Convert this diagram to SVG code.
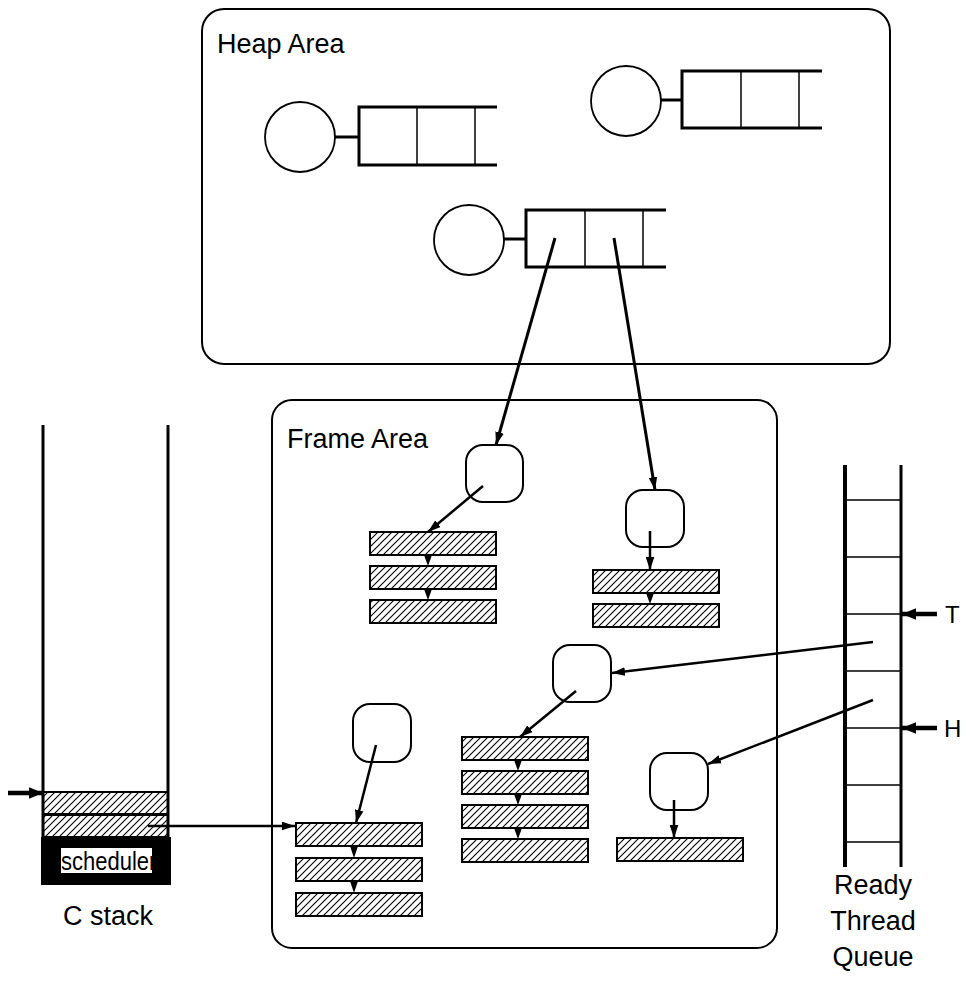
<svg xmlns="http://www.w3.org/2000/svg" width="964" height="988" viewBox="0 0 964 988">
<defs>
<pattern id="hatch" patternUnits="userSpaceOnUse" width="7" height="7">
<path d="M-2,2 L2,-2 M0,7 L7,0 M5,9 L9,5" stroke="#000" stroke-width="1.1"/>
</pattern>
<marker id="ah" viewBox="0 0 12 8" refX="12" refY="4" markerWidth="13" markerHeight="9" markerUnits="userSpaceOnUse" orient="auto">
<path d="M0,0 L12,4 L0,8 Z" fill="#000"/>
</marker>
<marker id="ahb" viewBox="0 0 12 10" refX="12" refY="5" markerWidth="14" markerHeight="12" markerUnits="userSpaceOnUse" orient="auto">
<path d="M0,0 L12,5 L0,10 Z" fill="#000"/>
</marker>
</defs>
<style>
.area{fill:none;stroke:#000;stroke-width:2}
.lbl{font-family:"Liberation Sans",Arial,sans-serif;font-size:27px;fill:#000}
.sm{font-family:"Liberation Sans",Arial,sans-serif;font-size:22px;fill:#000}
.tag{font-family:"Liberation Sans",Arial,sans-serif;font-size:24px;fill:#000}
.circ{fill:#fff;stroke:#000;stroke-width:1.8}
.thick{stroke:#000;stroke-width:3;fill:none}
.thin{stroke:#000;stroke-width:1.5;fill:none}
.node{fill:#fff;stroke:#000;stroke-width:2}
.stripe{fill:url(#hatch);stroke:#000;stroke-width:2}
.arr{stroke:#000;stroke-width:2.5;fill:none;marker-end:url(#ah)}
.arrh{stroke:#000;stroke-width:3;fill:none;marker-end:url(#ah)}
.ptr{stroke:#000;stroke-width:4.5;fill:none;marker-end:url(#ahb)}
.tri{fill:#000}
</style>

<g id="heap-area">
<rect class="area" x="202" y="9" width="688" height="355" rx="22"/>
<text class="lbl" x="217" y="53">Heap Area</text>
</g>

<g id="heap-obj-1">
<circle class="circ" cx="300" cy="137" r="35"/>
<line class="thick" x1="335" y1="137" x2="359" y2="137"/>
<path class="thick" d="M497,107 H359 V165 H497"/>
<line class="thin" x1="417" y1="107" x2="417" y2="165"/>
<line class="thin" x1="475" y1="107" x2="475" y2="165"/>
</g>

<g id="heap-obj-2">
<circle class="circ" cx="626" cy="101" r="35"/>
<line class="thick" x1="661" y1="100" x2="682" y2="100"/>
<path class="thick" d="M822,71 H682 V128 H822"/>
<line class="thin" x1="741" y1="71" x2="741" y2="128"/>
<line class="thin" x1="799" y1="71" x2="799" y2="128"/>
</g>

<g id="heap-obj-3">
<circle class="circ" cx="469" cy="240" r="35"/>
<line class="thick" x1="504" y1="239" x2="526" y2="239"/>
<path class="thick" d="M666,210 H526 V267 H666"/>
<line class="thin" x1="585" y1="210" x2="585" y2="267"/>
<line class="thin" x1="643" y1="210" x2="643" y2="267"/>
</g>

<g id="frame-area">
<rect class="area" x="272" y="400" width="505" height="548" rx="20"/>
<text class="lbl" x="287" y="448">Frame Area</text>
</g>

<g id="thread-a">
<rect class="node" x="466" y="445" width="57" height="57" rx="17"/>
<rect class="stripe" x="370" y="532" width="126" height="23"/>
<rect class="stripe" x="370" y="566" width="126" height="23"/>
<rect class="stripe" x="370" y="600" width="126" height="23"/>
<path class="tri" d="M424,555 L432,555 L428,566 Z"/>
<path class="tri" d="M424,589 L432,589 L428,600 Z"/>
</g>

<g id="thread-b">
<rect class="node" x="626" y="490" width="58" height="57" rx="17"/>
<rect class="stripe" x="593" y="570" width="126" height="23"/>
<rect class="stripe" x="593" y="604" width="126" height="23"/>
<path class="tri" d="M646,593 L654,593 L650,604 Z"/>
</g>

<g id="thread-c">
<rect class="node" x="553" y="645" width="58" height="57" rx="17"/>
<rect class="stripe" x="462" y="737" width="126" height="23"/>
<rect class="stripe" x="462" y="771" width="126" height="23"/>
<rect class="stripe" x="462" y="805" width="126" height="23"/>
<rect class="stripe" x="462" y="839" width="126" height="23"/>
<path class="tri" d="M514,760 L522,760 L518,771 Z"/>
<path class="tri" d="M514,794 L522,794 L518,805 Z"/>
<path class="tri" d="M514,828 L522,828 L518,839 Z"/>
</g>

<g id="thread-d">
<rect class="node" x="353" y="704" width="58" height="58" rx="17"/>
<rect class="stripe" x="296" y="823" width="126" height="23"/>
<rect class="stripe" x="296" y="858" width="126" height="23"/>
<rect class="stripe" x="296" y="893" width="126" height="23"/>
<path class="tri" d="M350,846 L358,846 L354,858 Z"/>
<path class="tri" d="M350,881 L358,881 L354,893 Z"/>
</g>

<g id="thread-e">
<rect class="node" x="650" y="753" width="58" height="57" rx="17"/>
<rect class="stripe" x="617" y="838" width="126" height="23"/>
</g>

<g id="c-stack">
<path d="M43,425 V840 M168,425 V840" stroke="#000" stroke-width="3" fill="none"/>
<rect class="stripe" x="43" y="792" width="125" height="22"/>
<rect class="stripe" x="43" y="815" width="125" height="22"/>
<rect x="41" y="837" width="130" height="48" fill="#000"/>
<svg x="61" y="848" width="91" height="25" overflow="hidden">
<rect x="0" y="0" width="91" height="25" fill="#fff"/>
<text class="sm" x="0" y="0" transform="translate(0,22) scale(1,1.2)">scheduler</text>
</svg>
<text class="lbl" x="63" y="925">C stack</text>
</g>

<g id="ready-queue">
<path d="M845,465 V867" stroke="#000" stroke-width="4" fill="none"/>
<path d="M901,465 V867" stroke="#000" stroke-width="3" fill="none"/>
<path class="thin" d="M845,500 H901 M845,557 H901 M845,614 H901 M845,671 H901 M845,728 H901 M845,785 H901 M845,842 H901"/>
<text class="lbl" x="873" y="894" text-anchor="middle">Ready</text>
<text class="lbl" x="873" y="930" text-anchor="middle">Thread</text>
<text class="lbl" x="873" y="966" text-anchor="middle">Queue</text>
<text class="tag" x="945" y="623">T</text>
<text class="tag" x="944" y="737">H</text>
</g>

<g id="connectors">
<line class="arrh" x1="555" y1="238" x2="496" y2="445"/>
<line class="arrh" x1="614" y1="238" x2="655" y2="490"/>
<line class="arr" x1="483" y1="486" x2="428" y2="532"/>
<line class="arr" x1="650" y1="531" x2="650" y2="570"/>
<line class="arr" x1="576" y1="691" x2="520" y2="737"/>
<line class="arr" x1="376" y1="745" x2="356" y2="823"/>
<line class="arr" x1="674" y1="800" x2="674" y2="838"/>
<line class="arr" x1="873" y1="642" x2="612" y2="673"/>
<line class="arr" x1="873" y1="700" x2="708" y2="764"/>
<line class="arr" x1="148" y1="826" x2="295" y2="826"/>
<line class="ptr" x1="8" y1="793" x2="43" y2="793"/>
<line class="ptr" x1="937" y1="614" x2="902" y2="614"/>
<line class="ptr" x1="937" y1="728" x2="902" y2="728"/>
</g>
</svg>
